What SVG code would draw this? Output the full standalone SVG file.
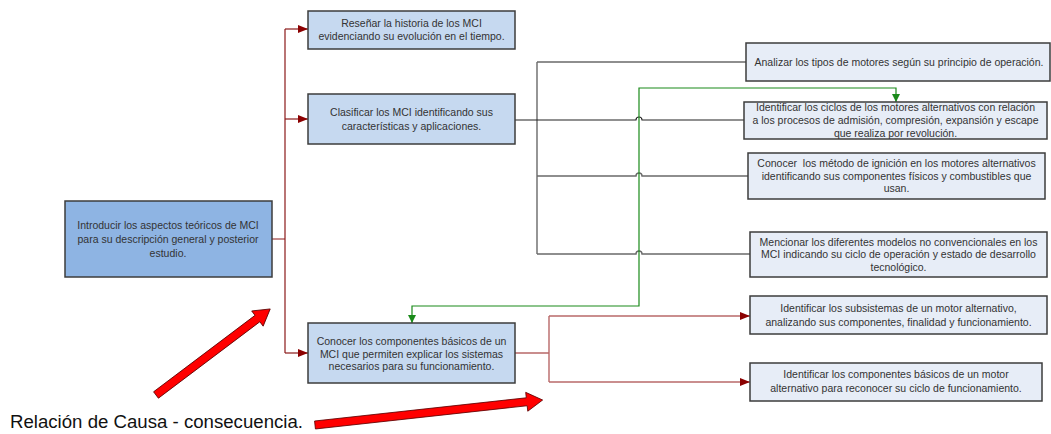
<svg xmlns="http://www.w3.org/2000/svg" width="1051" height="434" viewBox="0 0 1051 434">
<style>
.box{stroke:#3c3c3c;stroke-width:1.5}
.b1{fill:#c6d9f0}
.b0{fill:#8eb4e3}
.b2{fill:#e7edf7}
text{font-family:"Liberation Sans",Arial,sans-serif;font-size:10.5px;fill:#333;text-anchor:middle}
.red{fill:none;stroke:#8b1a1a;stroke-width:1.2}
.red2{fill:none;stroke:#b86868;stroke-width:1.4}
.gray{fill:none;stroke:#6a6a6a;stroke-width:1.4}
.blk{fill:none;stroke:#222;stroke-width:1.1}
.grn{fill:none;stroke:#1a8a1a;stroke-width:1.2}
.fat{fill:#ff0000;stroke:#5a0000;stroke-width:0.8}
</style>
<defs>
<marker id="ar" markerWidth="10" markerHeight="8" refX="10" refY="4" orient="auto" markerUnits="userSpaceOnUse"><path d="M0,0 L10,4 L0,8 z" fill="#8b0000"/></marker>
<marker id="ag" markerWidth="8" markerHeight="9" refX="8" refY="4" orient="auto" markerUnits="userSpaceOnUse"><path d="M0,0 L8,4 L0,8 z" fill="#1a8a1a"/></marker>
<marker id="agr" markerWidth="8" markerHeight="9" refX="8" refY="4" orient="auto-start-reverse" markerUnits="userSpaceOnUse"><path d="M0,0 L8,4 L0,8 z" fill="#1a8a1a"/></marker>
</defs>

<g id="connectors">
<path class="red" d="M272,239 H285 M285,29 V353" />
<path class="red" d="M285,29 H308" marker-end="url(#ar)"/>
<path class="red" d="M285,119 H308" marker-end="url(#ar)"/>
<path class="red" d="M285,353 H308" marker-end="url(#ar)"/>
<path class="gray" d="M537,62 V254 M537,62 H746"/>
<path class="blk" d="M515,120 H636 a3,3 0 0 1 6,0 H744"/>
<path class="gray" d="M537,176 H636 a3,3 0 0 1 6,0 H748"/>
<path class="gray" d="M537,254 H636 a3,3 0 0 1 6,0 H750"/>
<path class="grn" d="M412,323 V306 H639 V88 H896 V102" marker-start="url(#agr)" marker-end="url(#ag)"/>
<path class="red2" d="M515,353 H549 M549,316 V382"/>
<path class="red2" d="M549,316 H750" marker-end="url(#ar)"/>
<path class="red2" d="M549,382 H750" marker-end="url(#ar)"/>
</g>

<g id="main">
<rect class="box b0" x="65" y="201" width="207" height="76"/>
<text x="168" y="229">Introducir los aspectos teóricos de MCI</text>
<text x="168" y="243">para su descripción general y posterior</text>
<text x="168" y="257">estudio.</text>
</g>

<g id="resenar">
<rect class="box b1" x="308" y="11" width="207" height="38"/>
<text x="411.5" y="26.5">Reseñar la historia de los MCI</text>
<text x="411.5" y="39.5">evidenciando su evolución en el tiempo.</text>
</g>

<g id="clasificar">
<rect class="box b1" x="308" y="94" width="207" height="50"/>
<text x="411.5" y="115.5">Clasificar los MCI identificando sus</text>
<text x="411.5" y="129.5">características y aplicaciones.</text>
</g>

<g id="conocer">
<rect class="box b1" x="308" y="323" width="207" height="60"/>
<text x="411.5" y="345">Conocer los componentes básicos de un</text>
<text x="411.5" y="357.5">MCI que permiten explicar los sistemas</text>
<text x="411.5" y="370">necesarios para su funcionamiento.</text>
</g>

<g id="analizar">
<rect class="box b2" x="746" y="43" width="304" height="38"/>
<text x="899" y="65.5">Analizar los tipos de motores según su principio de operación.</text>
</g>

<g id="ciclos">
<rect class="box b2" x="744" y="102" width="303" height="37"/>
<text x="895.5" y="111">Identificar los ciclos de los motores alternativos con relación</text>
<text x="895.5" y="124">a los procesos de admisión, compresión, expansión y escape</text>
<text x="895.5" y="137">que realiza por revolución.</text>
</g>

<g id="ignicion">
<rect class="box b2" x="748" y="153" width="297" height="46"/>
<text x="896.5" y="167" style="white-space:pre">Conocer  los método de ignición en los motores alternativos</text>
<text x="896.5" y="180">identificando sus componentes físicos y combustibles que</text>
<text x="896.5" y="192">usan.</text>
</g>

<g id="mencionar">
<rect class="box b2" x="750" y="232" width="297" height="45"/>
<text x="898.5" y="246">Mencionar los diferentes modelos no convencionales en los</text>
<text x="898.5" y="258">MCI indicando su ciclo de operación y estado de desarrollo</text>
<text x="898.5" y="271">tecnológico.</text>
</g>

<g id="subsistemas">
<rect class="box b2" x="750" y="296" width="297" height="38"/>
<text x="898.5" y="312">Identificar los subsistemas de un motor alternativo,</text>
<text x="898.5" y="326">analizando sus componentes, finalidad y funcionamiento.</text>
</g>

<g id="componentes">
<rect class="box b2" x="750" y="363" width="292" height="38"/>
<text x="896" y="378">Identificar los componentes básicos de un motor</text>
<text x="896" y="392">alternativo para reconocer su ciclo de funcionamiento.</text>
</g>

<g id="legend">
<polygon class="fat" transform="translate(156,395) rotate(-37)" points="0,-4 127,-4 127,-9.5 143,0 127,9.5 127,4 0,4"/>
<polygon class="fat" transform="translate(315,425) rotate(-6.26)" points="0,-4 213,-4 213,-9.5 229,0 213,9.5 213,4 0,4"/>
<text x="10" y="428" style="font-size:17.5px;text-anchor:start;fill:#111" textLength="293" lengthAdjust="spacingAndGlyphs">Relación de Causa - consecuencia.</text>
</g>
</svg>
